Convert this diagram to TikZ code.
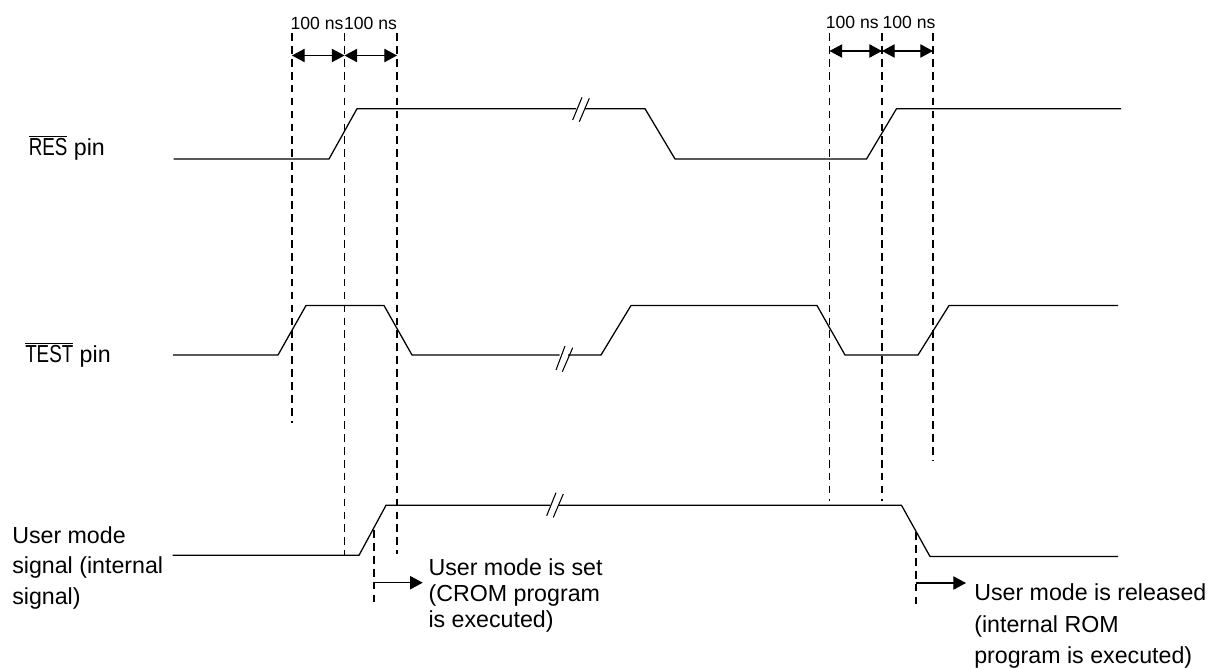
\documentclass[tikz,border=0pt]{standalone}
\usepackage{fontspec}
\usepackage{graphicx}
\setmainfont{Liberation Sans}
\usetikzlibrary{arrows.meta}
\newcommand{\barname}[1]{$\overline{\hbox{\scalebox{0.81}[1.06]{#1}}}$}
\tikzset{
  x=0.75pt,y=-0.75pt,
  signal/.style={line width=0.95pt,black,line join=miter},
  guide/.style={line width=1.25pt,dash pattern=on 5.8pt off 3.9pt,black},
  thinguide/.style={line width=1pt,dash pattern=on 5.8pt off 3.9pt,black},
  breakmark/.style={line width=0.8pt,black},
  span/.style={line width=0.8pt,{Triangle[length=9.5pt,width=10pt]}-{Triangle[length=9.5pt,width=10pt]}},
  pointer/.style={line width=0.8pt,-{Triangle[length=9.5pt,width=10pt]}},
  lab/.style={font=\fontsize{17.4}{23.2}\selectfont,align=left,anchor=north west,inner sep=0pt},
  pinlab/.style={font=\fontsize{17.4}{23.2}\selectfont,anchor=base west,inner sep=0pt},
  small/.style={font=\fontsize{13.2}{16}\selectfont,inner sep=0pt,anchor=base},
}
\begin{document}
\begin{tikzpicture}
\useasboundingbox (0,0) rectangle (1209,668);
% guide anchors
\foreach \n/\x/\e in {a/292.2/423,b/344.6/555,c/397/554,d/829.6/501,e/882/501,f/933/461}{
  \coordinate (\n t) at (\x,33);
  \coordinate (\n b) at (\x,\e);
}
\draw[guide] (at) -- (ab);
\draw[guide] (bt) -- (bb);
\draw[guide] (ct) -- (cb);
\draw[guide] (dt) -- (db);
\draw[guide] (et) -- (eb);
\draw[guide] (ft) -- (fb);
% signals
\draw[signal] (173.5,159) -- (329,159) -- (357,108.7) -- (576,108.7);
\draw[signal] (585,108.7) -- (645,108.7) -- (675,159) -- (866.5,159) -- (896.5,108.7) -- (1121,108.7);
\draw[signal] (173,355) -- (278,355) -- (306,305.5) -- (384,305.5) -- (412,355) -- (559.5,355);
\draw[signal] (568,355) -- (601,355) -- (631,305.5) -- (817,305.5) -- (845,355) -- (918,355) -- (949,305.5) -- (1118,305.5);
\draw[signal] (172.5,555.3) -- (359,555.3) -- (386,505.3) -- (550,505.3);
\draw[signal] (559,505.3) -- (901.5,505.3) -- (930,556.5) -- (1118,556.5);
% breaks
\draw[breakmark] (572.7,120) -- (582,97.3);
\draw[breakmark] (579.3,121.7) -- (589.3,98.3);
\draw[breakmark] (556,370) -- (565,346);
\draw[breakmark] (562.3,371.7) -- (572.7,347.7);
\draw[breakmark] (546.7,515.7) -- (556,492.7);
\draw[breakmark] (553.3,517.3) -- (563.3,494);
% spans
\draw[span] (292,55.5) -- (344.5,55.5);
\draw[span] (344.5,55.5) -- (397,55.5);
\draw[span] (829.5,51) -- (882,51);
\draw[span] (882,51) -- (933,51);
\node[small] (s1) at (317,29.3) {100 ns};
\node[small] (s2) at (370.5,29.3) {100 ns};
\node[small] (s3) at (852.3,28) {100 ns};
\node[small] (s4) at (909,28) {100 ns};
% labels
\node[pinlab] (res) at (28.5,155) {\barname{RES} pin};
\node[pinlab] (test) at (25,362.7) {\barname{TEST} pin};
\node[lab,font=\fontsize{17.4}{23}\selectfont] (um) at (12,526) {User mode\\signal (internal\\signal)};
\node[lab,font=\fontsize{17.4}{19.5}\selectfont] (set) at (428.3,558.2) {User mode is set\\(CROM program\\is executed)};
\node[lab,font=\fontsize{17.4}{23.6}\selectfont] (rel) at (974,583.5) {User mode is released\\(internal ROM\\program is executed)};
% set/release markers
\coordinate (m1t) at (374,530); \coordinate (m1b) at (374,603);
\coordinate (m2t) at (916,532); \coordinate (m2b) at (916,606);
\draw[thinguide] (m1t) -- (m1b);
\draw[thinguide] (m2t) -- (m2b);
\draw[pointer] (374,582.7) -- (422.7,582.7);
\draw[pointer] (916,583) -- (966,583);
\end{tikzpicture}
\end{document}
